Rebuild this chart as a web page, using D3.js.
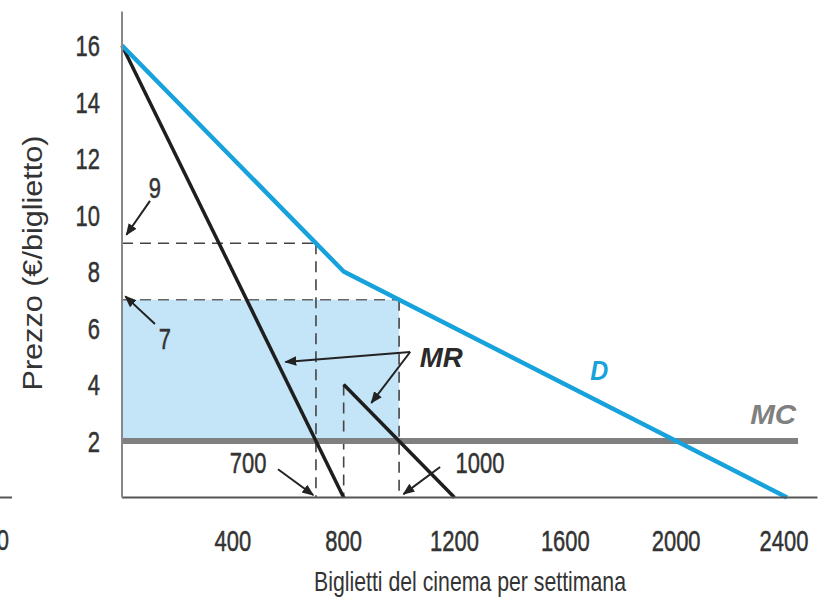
<!DOCTYPE html>
<html>
<head>
<meta charset="utf-8">
<script src="https://cdn.jsdelivr.net/npm/d3@7"></script>
<style>
  html, body { margin: 0; padding: 0; background: #fff; }
  svg { display: block; }
  text { font-family: "Liberation Sans", Arial, "DejaVu Sans Condensed", sans-serif; }
</style>
</head>
<body>
<svg id="chart" width="824" height="599"></svg>
<script>
// ---- data ----
const xTicks = [400, 800, 1200, 1600, 2000, 2400];
const yTicks = [2, 4, 6, 8, 10, 12, 14, 16];
const demandQ = [0, 800, 2400];
const demandP = [16, 8, 0];
const mrLeftQ = [0, 800];
const mrLeftP = [16, 0];
const mrRightQ = [800, 1200];
const mrRightP = [4, 0];
const mcQ = [0, 2440];
const mcP = [2, 2];
const monopolyQ = [700, 1000];   // quantities without / with price discrimination
const monopolyP = [9, 7];        // prices
const surplusArea = { q0: 0, q1: 1000, p0: 2, p1: 7 };
const xTitle = "Biglietti del cinema per settimana";
const yTitle = "Prezzo (€/biglietto)";

const svg = d3.select("#chart");
const x = d3.scaleLinear().domain([0, 2400]).range([122, 787]);
const y = d3.scaleLinear().domain([0, 16]).range([497.5, 45.5]);

const dark = "#333";
const blue = "#17a2dc";

// arrow marker
const defs = svg.append("defs");
defs.append("marker").attr("id", "arr").attr("viewBox", "0 0 10 10")
  .attr("refX", 9).attr("refY", 5).attr("markerWidth", 12).attr("markerHeight", 12)
  .attr("orient", "auto-start-reverse").attr("markerUnits", "userSpaceOnUse")
  .append("path").attr("d", "M0,1 L10,5 L0,9 Z").attr("fill", "#222");

// shaded area
svg.append("rect")
  .attr("x", x(surplusArea.q0)).attr("y", y(surplusArea.p1))
  .attr("width", x(surplusArea.q1) - x(surplusArea.q0))
  .attr("height", y(surplusArea.p0) - y(surplusArea.p1))
  .attr("fill", "#c4e4f7");

// dashed guides
const dash = (q1, p1, q2, p2, col) => svg.append("line")
  .attr("x1", x(q1)).attr("y1", y(p1)).attr("x2", x(q2)).attr("y2", y(p2))
  .attr("stroke", col || "#444").attr("stroke-width", 1.6).attr("stroke-dasharray", "11,7");
dash(0, monopolyP[0], monopolyQ[0], monopolyP[0]);
dash(monopolyQ[0], monopolyP[0], monopolyQ[0], 0);
dash(0, monopolyP[1], monopolyQ[1], monopolyP[1], "#666");
dash(monopolyQ[1], monopolyP[1], monopolyQ[1], 0);
dash(mrRightQ[0], mrRightP[0], mrRightQ[0], 0);

// MC
const line = d3.line().x(d => x(d[0])).y(d => y(d[1]));
svg.append("path").datum(d3.zip(mcQ, mcP)).attr("d", line)
  .attr("stroke", "#808080").attr("stroke-width", 6).attr("fill", "none");

// MR segments
svg.append("path").datum(d3.zip(mrLeftQ, mrLeftP)).attr("d", line)
  .attr("stroke", "#1e1e1e").attr("stroke-width", 3.5).attr("fill", "none");
svg.append("path").datum(d3.zip(mrRightQ, mrRightP)).attr("d", line)
  .attr("stroke", "#1e1e1e").attr("stroke-width", 3.5).attr("fill", "none");

// Demand
svg.append("path").datum(d3.zip(demandQ, demandP)).attr("d", line)
  .attr("stroke", blue).attr("stroke-width", 4.5).attr("fill", "none")
  .attr("stroke-linejoin", "round");

// axes
svg.append("line").attr("x1", x(0)).attr("x2", x(2510)).attr("y1", y(0)).attr("y2", y(0))
  .attr("stroke", "#555").attr("stroke-width", 2);
svg.append("line").attr("x1", x(0)).attr("x2", x(0)).attr("y1", y(0)).attr("y2", y(17.2))
  .attr("stroke", "#888").attr("stroke-width", 2);

// condensed numeric text helper
const num = (sel) => sel.attr("font-size", 30).attr("fill", dark)
  .attr("stroke", dark).attr("stroke-width", 0.5)
  .attr("lengthAdjust", "spacingAndGlyphs")
  .attr("textLength", d => String(d).length * 12.2);

// stray fragment of neighbouring figure at left edge
svg.append("line").attr("x1", 0).attr("x2", 12).attr("y1", y(0)).attr("y2", y(0))
  .attr("stroke", "#555").attr("stroke-width", 2);
svg.append("text").datum("0").attr("x", 9).attr("y", 550).attr("text-anchor", "end")
  .call(num).text(d => d);

// tick labels
svg.append("g").selectAll("text").data(xTicks).join("text")
  .attr("x", d => x(d) - (d === 2400 ? 3 : 0)).attr("y", 551).attr("text-anchor", "middle")
  .call(num).text(d => d);
svg.append("g").selectAll("text").data(yTicks).join("text")
  .attr("x", 100).attr("y", d => y(d)).attr("dy", "0.36em").attr("text-anchor", "end")
  .call(num).text(d => d);

// axis titles
svg.append("text").attr("x", 470).attr("y", 591).attr("text-anchor", "middle")
  .attr("font-size", 28).attr("fill", dark)
  .attr("textLength", 312).attr("lengthAdjust", "spacingAndGlyphs").text(xTitle);
svg.append("text").attr("transform", "translate(42,263) rotate(-90)")
  .attr("text-anchor", "middle").attr("font-size", 27).attr("fill", dark)
  .attr("textLength", 255).attr("lengthAdjust", "spacingAndGlyphs").text(yTitle);

// annotations (data units)
const arrow = (q1, p1, q2, p2) => svg.append("line")
  .attr("x1", x(q1)).attr("y1", y(p1)).attr("x2", x(q2)).attr("y2", y(p2))
  .attr("stroke", "#222").attr("stroke-width", 2).attr("marker-end", "url(#arr)");
const numLabel = (q, p, t) => svg.append("text").datum(t)
  .attr("x", x(q)).attr("y", y(p)).attr("dy", "0.36em").attr("text-anchor", "middle")
  .call(num).text(t);
const curveLabel = (q, p, t, fill, w) => svg.append("text")
  .attr("x", x(q)).attr("y", y(p)).attr("dy", "0.36em").attr("text-anchor", "middle")
  .attr("font-size", 28).attr("fill", fill).attr("font-weight", "bold").attr("font-style", "italic")
  .attr("textLength", w).attr("lengthAdjust", "spacingAndGlyphs").text(t);

numLabel(119, 11.0, "9");
arrow(101, 10.5, 16, 9.3);
numLabel(155, 5.65, "7");
arrow(119, 6.14, 12, 7.12);
numLabel(455, 1.26, "700");
arrow(563, 1.0, 690, 0.09);
numLabel(1292, 1.26, "1000");
arrow(1148, 1.08, 1016, 0.12);
curveLabel(1152, 4.97, "MR", "#2a2a2a", 43);
arrow(1040, 5.15, 590, 4.8);
arrow(1040, 5.15, 900, 3.35);
curveLabel(1722, 4.51, "D", blue, 18);
curveLabel(2350, 2.96, "MC", "#808080", 46);
</script>
</body>
</html>
